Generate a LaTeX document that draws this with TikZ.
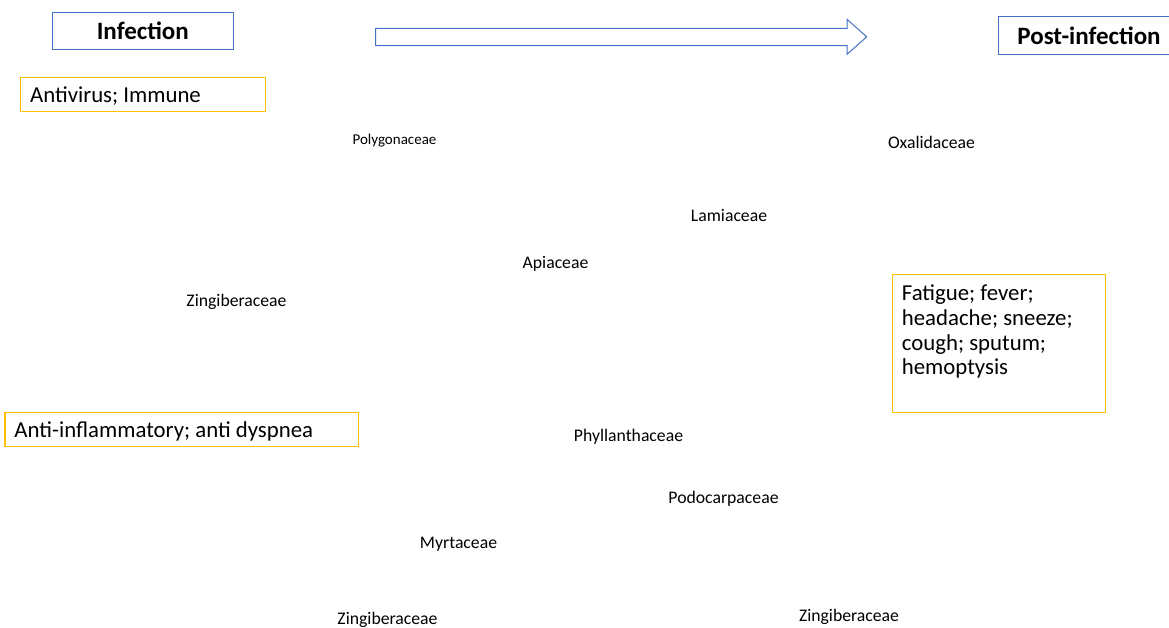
\documentclass[tikz,border=0pt]{standalone}
\usepackage{fontspec}
\newfontfamily\cf{Carlito}
\frenchspacing
\definecolor{bblue}{HTML}{4472C4}
\definecolor{byel}{HTML}{FFC000}
\tikzset{
  hdr/.style={draw=bblue, line width=1pt, font={\cf\bfseries\fontsize{25}{30}\selectfont}, minimum width=181pt, minimum height=37.5pt, inner sep=0pt},
  ybox/.style={draw=byel, line width=1.1pt, font={\cf\frenchspacing\fontsize{22.8}{24.8}\selectfont}, inner xsep=9.5pt, inner ysep=0pt, text depth=0pt, align=flush left},
  fam/.style={anchor=base, font={\cf\fontsize{17.7}{20}\selectfont}, inner sep=0pt},
  bigarrow/.style={draw=bblue, line width=1pt, fill=white, line join=miter}
}
\begin{document}
\begin{tikzpicture}[x=1pt,y=-1pt]
\useasboundingbox (0,0) rectangle (1169,627);
% headers
\node[hdr] (inf) at (142.8,30.8) {Infection};
\node[hdr] (post) at (1089,35.3) {Post-infection};
\draw[bigarrow] (375.5,28.3) -- (847,28.3) -- (847,19.3) -- (866.7,36.8) -- (847,54.3) -- (847,45.7) -- (375.5,45.7) -- cycle;
% yellow boxes
\node[ybox, text width=225.6pt, minimum height=33.7pt] (anti) at (142.9,94.2) {Antivirus; Immune};
\node[ybox, text width=334.3pt, minimum height=33.7pt] (infl) at (181.6,429.2) {Anti-inflammatory; anti dyspnea};
\node[draw=byel, line width=1.1pt, minimum width=213.4pt, minimum height=138pt, inner sep=0pt] (sym) at (999,343.3) {};
\node[anchor=north west, inner sep=0pt, align=left, font={\cf\frenchspacing\fontsize{22.8}{24.8}\selectfont}] (symt) at (901.7,284.5) {Fatigue; fever;\\headache; sneeze;\\cough; sputum;\\hemoptysis};
% family labels
\node[fam, font={\cf\fontsize{15}{18}\selectfont}] (poly) at (394.5,144.3) {Polygonaceae};
\node[fam] (oxa) at (931.5,148.3) {Oxalidaceae};
\node[fam] (lam) at (729,221) {Lamiaceae};
\node[fam] (api) at (555.5,268) {Apiaceae};
\node[fam] (zin1) at (236.5,306) {Zingiberaceae};
\node[fam] (phy) at (628.5,441.5) {Phyllanthaceae};
\node[fam] (pod) at (723.5,503.3) {Podocarpaceae};
\node[fam] (myr) at (458.5,548) {Myrtaceae};
\node[fam] (zin2) at (387.5,624) {Zingiberaceae};
\node[fam] (zin3) at (849,621) {Zingiberaceae};
\end{tikzpicture}
\end{document}
